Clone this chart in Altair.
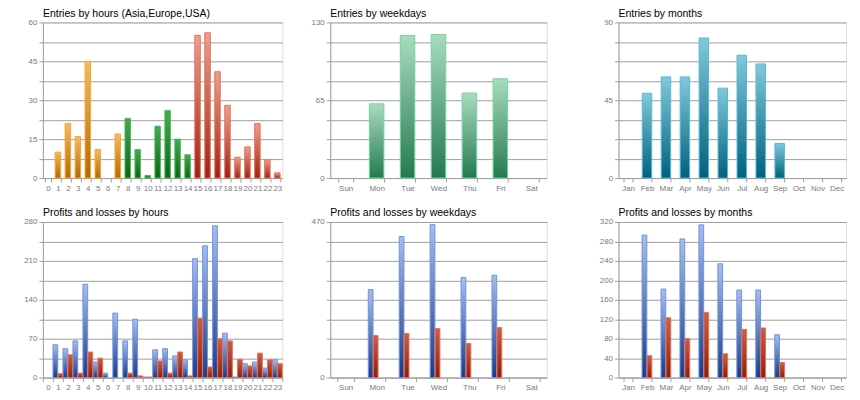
import altair as alt
import pandas as pd

hours = [str(h) for h in range(24)]
hour_groups = ["Asia"] * 8 + ["Europe"] * 7 + ["USA"] * 9
entries_hours = [0, 10, 21, 16, 45, 11, 0, 17, 23, 11, 1, 20, 26, 15, 9, 55, 56, 41, 28, 8, 12, 21, 7, 2]
profits_hours = [0, 59, 52, 66, 168, 28, 8, 116, 66, 105, 1, 50, 52, 39, 32, 214, 237, 273, 80, 1, 25, 28, 17, 32]
losses_hours = [0, 7, 41, 8, 46, 35, 0, 0, 8, 3, 1, 30, 8, 46, 3, 107, 19, 70, 66, 33, 21, 44, 32, 25]

weekdays = ["Sun", "Mon", "Tue", "Wed", "Thu", "Fri", "Sat"]
entries_weekdays = [0, 62, 119, 120, 71, 83, 0]
profits_weekdays = [0, 266, 426, 462, 302, 309, 0]
losses_weekdays = [0, 127, 133, 148, 103, 151, 0]

months = ["Jan", "Feb", "Mar", "Apr", "May", "Jun", "Jul", "Aug", "Sep", "Oct", "Nov", "Dec"]
entries_months = [0, 49, 58.5, 58.5, 81, 52, 71, 66, 20, 0, 0, 0]
profits_months = [0, 293, 182, 285, 314, 234, 180, 180, 88, 0, 0, 0]
losses_months = [0, 45, 123, 80, 134, 49, 99, 102, 31, 0, 0, 0]

GRID = "#a0a0a0"
LBL = "#7a7a7a"
FONT = "Liberation Sans"


def grad(top, bottom):
    return alt.LinearGradient(
        gradient="linear", x1=0, x2=0, y1=0, y2=1,
        stops=[alt.GradientStop(color=top, offset=0),
               alt.GradientStop(color=bottom, offset=1)])


STYLES = {
    "Asia": (grad("#f3bb63", "#b36a00"), "#f7a630"),
    "Europe": (grad("#46a852", "#0b6514"), "#4cbc57"),
    "USA": (grad("#eda08e", "#9c2210"), "#e8705a"),
    "P": (grad("#a8bdec", "#1b3b88"), "#6e94e2"),
    "L": (grad("#c9604a", "#8e1e08"), "#e8705a"),
    "wd": (grad("#a8dcbf", "#25794f"), "#70d4a2"),
    "mo": (grad("#82c8da", "#00617c"), "#52bad9"),
}


def yaxis(maxv, labelstep, extent):
    step = maxv / 8
    vals = [round(step * i, 4) for i in range(9)]
    expr = (f"abs(datum.value/{labelstep} - round(datum.value/{labelstep})) < 0.001 "
            f"? datum.label : ''")
    return alt.Axis(values=vals, labelExpr=expr, title=None, grid=True,
                    gridColor=GRID, domainColor=GRID, tickColor=GRID, tickSize=4,
                    labelColor=LBL, labelFontSize=8, labelFont=FONT,
                    minExtent=extent, maxExtent=extent)


def xaxis():
    return alt.Axis(title=None, labelAngle=0, grid=False, tickBand="extent",
                    domainColor=GRID, tickColor=GRID, tickSize=4, labelColor=LBL,
                    labelFontSize=8, labelFont=FONT, labelOverlap=False, labelPadding=2)


def ttl(text):
    return alt.TitleParams(text, anchor="start", frame="group", fontSize=10.5, font=FONT,
                           fontWeight="normal", color="black", offset=-2, dy=-1)


def single(cats, vals, groups, title, maxv, labelstep, width, extent, pad):
    df = pd.DataFrame({"cat": cats, "value": vals, "grp": groups})
    df = df[df["value"] > 0]
    layers = []
    for g in dict.fromkeys(groups):
        fill, stroke = STYLES[g]
        layers.append(
            alt.Chart(df).transform_filter(alt.datum.grp == g).mark_bar(
                fill=fill, stroke=stroke, strokeWidth=1
            ).encode(
                x=alt.X("cat:N", scale=alt.Scale(domain=cats, paddingInner=pad, paddingOuter=pad / 2),
                        axis=xaxis()),
                y=alt.Y("value:Q", scale=alt.Scale(domain=[0, maxv], nice=False), axis=yaxis(maxv, labelstep, extent)),
            ))
    return alt.layer(*layers).properties(width=width, height=156, title=ttl(title))


def paired(cats, prof, loss, title, maxv, labelstep, width, extent, pad, opad):
    df = pd.DataFrame({
        "cat": cats + cats,
        "value": prof + loss,
        "series": ["P"] * len(cats) + ["L"] * len(cats),
    })
    df = df[df["value"] > 0]
    layers = []
    for s in ["P", "L"]:
        fill, stroke = STYLES[s]
        layers.append(
            alt.Chart(df).transform_filter(alt.datum.series == s).mark_bar(
                fill=fill, stroke=stroke, strokeWidth=1
            ).encode(
                x=alt.X("cat:N", scale=alt.Scale(domain=cats, paddingInner=pad, paddingOuter=pad / 2),
                        axis=xaxis()),
                xOffset=alt.XOffset("series:N", scale=alt.Scale(domain=["P", "L"], paddingInner=opad)),
                y=alt.Y("value:Q", scale=alt.Scale(domain=[0, maxv], nice=False), axis=yaxis(maxv, labelstep, extent)),
            ))
    return alt.layer(*layers).properties(width=width, height=156, title=ttl(title))


c1 = single(hours, entries_hours, hour_groups, "Entries by hours (Asia,Europe,USA)", 60, 15, 240, 34, 0.45)
c2 = single(weekdays, entries_weekdays, ["wd"] * 7, "Entries by weekdays", 130, 65, 217, 36, 0.53)
c3 = single(months, entries_months, ["mo"] * 12, "Entries by months", 90, 45, 228, 60, 0.5)
c4 = paired(hours, profits_hours, losses_hours, "Profits and losses by hours", 280, 70, 240, 34, 0.02, 0.05)
c5 = paired(weekdays, profits_weekdays, losses_weekdays, "Profits and losses by weekdays", 470, 470, 217, 36, 0.46, 0.06)
c6 = paired(months, profits_months, losses_months, "Profits and losses by months", 320, 40, 228, 60, 0.48, 0.06)

chart = alt.vconcat(
    alt.hconcat(c1, c2, c3, spacing=10),
    alt.hconcat(c4, c5, c6, spacing=10),
    spacing=15,
).properties(padding={"left": 0, "top": 0, "right": 5, "bottom": 5}).configure_view(stroke=None).configure(font=FONT)

chart.save("out.html", embed_options={"renderer": "svg", "actions": False})
